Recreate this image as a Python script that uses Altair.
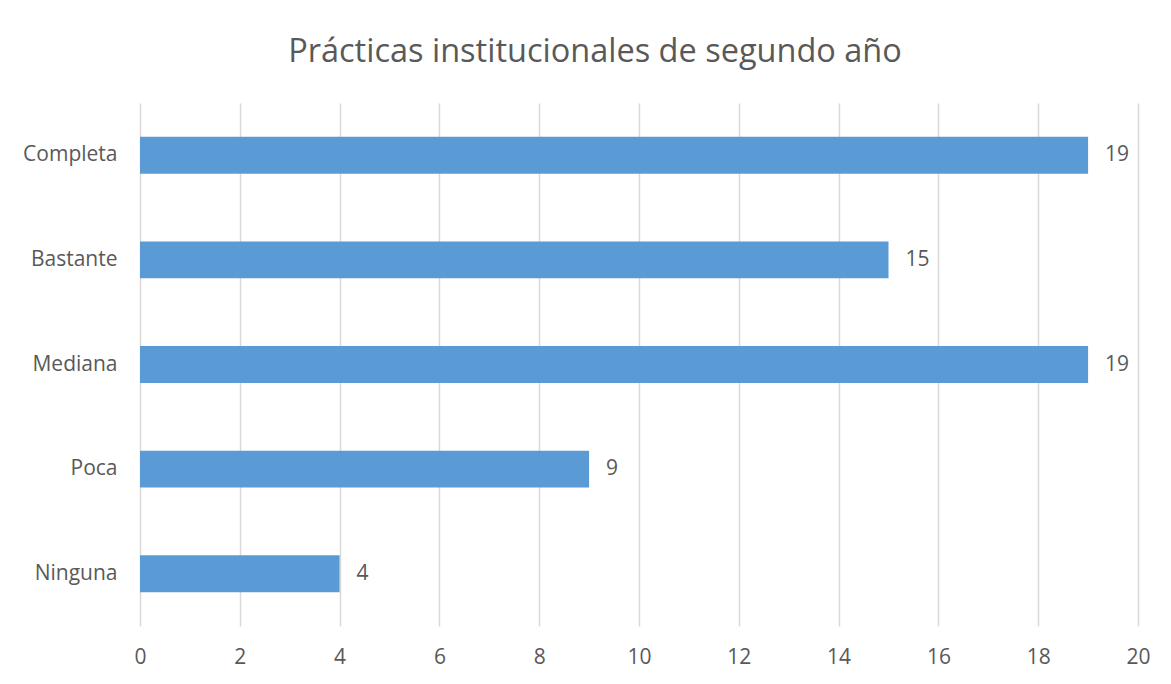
import altair as alt
import pandas as pd

categories = ["Completa", "Bastante", "Mediana", "Poca", "Ninguna"]
values = [19, 15, 19, 9, 4]
x_ticks = [0, 2, 4, 6, 8, 10, 12, 14, 16, 18, 20]
title_text = "Prácticas institucionales de segundo año"

df = pd.DataFrame({"cat": categories, "val": values})

FONT = "Open Sans"
TXT = "#595959"
W, H = 998, 523
FS = 21

y_enc = alt.Y("cat:N", sort=categories, title=None,
              scale=alt.Scale(paddingInner=0.647, paddingOuter=0.3235),
              axis=alt.Axis(domain=False, ticks=False, labelPadding=23,
                            labelFontSize=FS, labelColor=TXT, labelFont=FONT,
                            grid=False))
x_enc = alt.X("val:Q", title=None,
              scale=alt.Scale(domain=[0, 20], nice=False),
              axis=alt.Axis(values=x_ticks, domain=False, ticks=False,
                            labelPadding=20, labelFontSize=FS, labelColor=TXT,
                            labelFont=FONT, labelFlush=False, grid=True,
                            gridColor="#D9D9D9", gridWidth=1.5))

bars = alt.Chart(df).mark_bar(color="#5B9BD5").encode(x=x_enc, y=y_enc)
labels = alt.Chart(df).mark_text(align="left", baseline="middle", dx=17,
                                 fontSize=FS, color=TXT, font=FONT).encode(
    x="val:Q", y=alt.Y("cat:N", sort=categories), text="val:Q")

chart = alt.layer(bars, labels).properties(
    width=W, height=H,
    title=alt.TitleParams(title_text, fontSize=32.5, font=FONT, color=TXT,
                          fontWeight="normal", anchor="middle", dx=-44, offset=35),
    autosize=alt.AutoSizeParams(type="none"),
    padding={"left": 132, "top": 95, "right": 25, "bottom": 50},
).configure_view(stroke=None, strokeWidth=0)

chart.save("out.html", embed_options={"renderer": "svg", "actions": False})
